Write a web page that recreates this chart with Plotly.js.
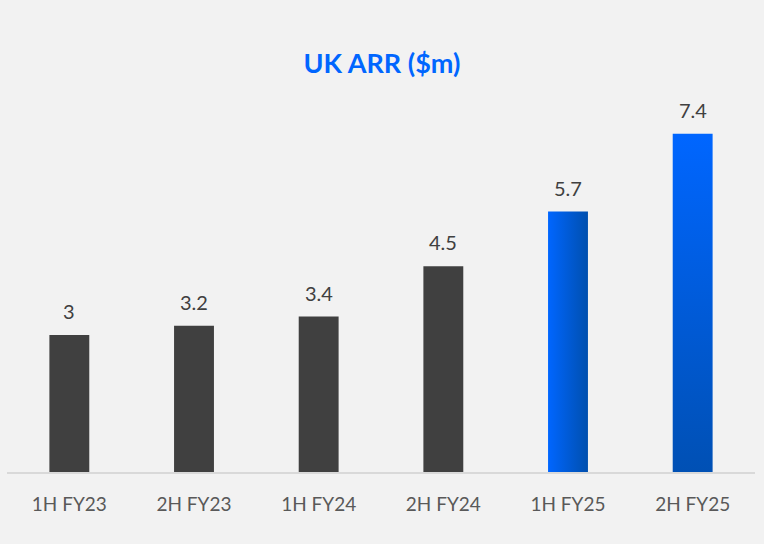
<!DOCTYPE html>
<html>
<head>
<meta charset="utf-8">
<script src="https://cdn.plot.ly/plotly-3.0.1.min.js"></script>
<style>
html,body{margin:0;padding:0;background:#f2f2f2;}
#chart{width:764px;height:544px;}
</style>
</head>
<body>
<div id="chart"></div>
<script>
const categories = ["1H FY23", "2H FY23", "1H FY24", "2H FY24", "1H FY25", "2H FY25"];
const values = [3, 3.2, 3.4, 4.5, 5.7, 7.4];
const valueLabels = ["3", "3.2", "3.4", "4.5", "5.7", "7.4"];
const barColors = ["#404040", "#404040", "#404040", "#404040", "#0060f0", "#0058d0"];

const FONT = "Lato, 'DejaVu Sans', sans-serif";

const trace = {
  type: "bar",
  x: categories,
  y: values,
  marker: {color: barColors, line: {width: 0}},
  hoverinfo: "none"
};

const annotations = categories.map((c, i) => ({
  x: c, y: values[i], xref: "x", yref: "y",
  text: valueLabels[i], showarrow: false,
  yanchor: "bottom", yshift: 10,
  font: {family: FONT, size: 20, color: "#404040"}
}));

const layout = {
  width: 764, height: 544,
  paper_bgcolor: "#f2f2f2", plot_bgcolor: "#f2f2f2",
  margin: {l: 7, r: 9, t: 90, b: 72},
  bargap: 0.68,
  showlegend: false,
  title: {
    text: "<b>UK ARR ($m)</b>",
    font: {family: FONT, size: 27, color: "#0066ff"},
    x: 0.5, xanchor: "center", y: 1 - 64/544, yanchor: "middle", yref: "container"
  },
  xaxis: {
    type: "category",
    showline: true, linecolor: "#d9d9d9", linewidth: 2,
    ticks: "", showgrid: false, zeroline: false,
    tickfont: {family: FONT, size: 19, color: "#595959"},
    ticklabelstandoff: 14
  },
  yaxis: {
    range: [0, (472 - 90) / 45.7],
    visible: false, showgrid: false, zeroline: false
  },
  annotations: annotations
};

Plotly.newPlot("chart", [trace], layout, {displayModeBar: false, staticPlot: true}).then(gd => {
  const NS = "http://www.w3.org/2000/svg";
  const svg = gd.querySelector("svg.main-svg");
  let defs = svg.querySelector("defs");
  if (!defs) { defs = document.createElementNS(NS, "defs"); svg.insertBefore(defs, svg.firstChild); }
  function grad(id, x1, y1, x2, y2, c1, c2) {
    const g = document.createElementNS(NS, "linearGradient");
    g.setAttribute("id", id);
    g.setAttribute("x1", x1); g.setAttribute("y1", y1);
    g.setAttribute("x2", x2); g.setAttribute("y2", y2);
    [[0, c1], [1, c2]].forEach(([o, c]) => {
      const s = document.createElementNS(NS, "stop");
      s.setAttribute("offset", o); s.setAttribute("stop-color", c);
      g.appendChild(s);
    });
    defs.appendChild(g);
  }
  grad("gH", 0, 0, 1, 0, "#0066ff", "#004fae");
  grad("gV", 0, 0, 0, 1, "#0066ff", "#0050b4");
  const paths = gd.querySelectorAll(".barlayer .point path");
  if (paths[4]) paths[4].style.fill = "url(#gH)";
  if (paths[5]) paths[5].style.fill = "url(#gV)";
});
</script>
</body>
</html>
